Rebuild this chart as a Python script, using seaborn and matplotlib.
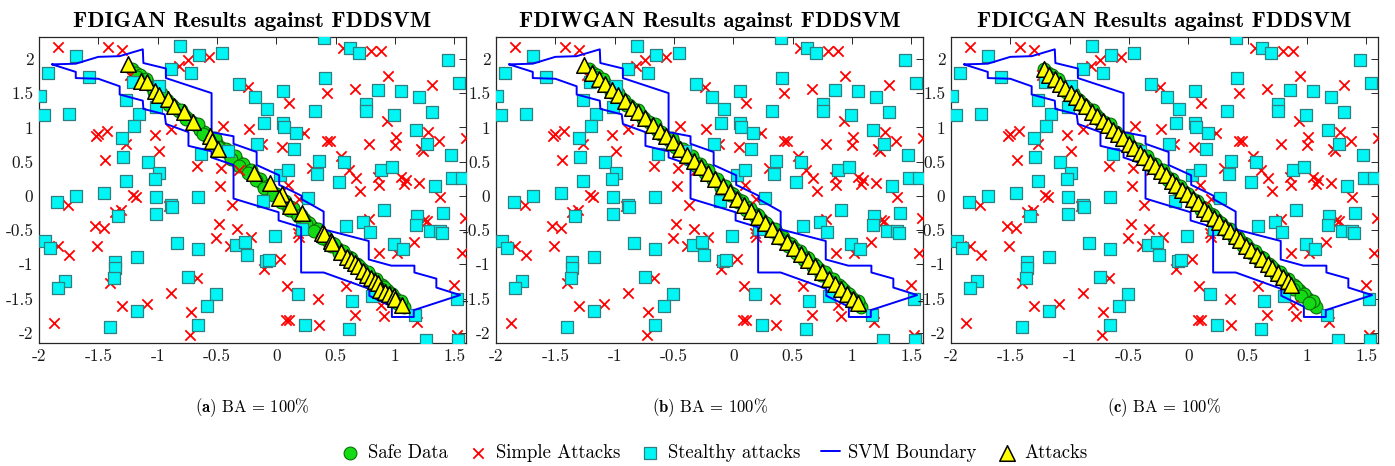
import matplotlib
matplotlib.use("Agg")
import matplotlib.pyplot as plt
import seaborn as sns
from matplotlib.ticker import FuncFormatter

# ---- data ----
simple_x = [-1.84, -1.42, -1.30, -0.82, -0.74, -0.57, 0.56, 0.80, 0.88, -0.235, 0.945, 1.31, 0.43, 0.66,
            0.11, 0.93, -1.52, -1.50, -1.43, -1.02, -1.27, -0.99, -1.445, -0.89, -0.45, -0.23, 0.23, -0.12,
            0.05, 0.43, 0.455, 0.78, 1.01, 1.00, 1.28, 1.37, 1.60, 1.22, 1.24, 0.55, -0.665, -0.465, 0.30,
            0.615, 0.67, 0.71, 0.86, 0.87, 1.05, 1.09, 1.075, 1.20, 1.385, -0.31, -0.47, 0.10, 0.19, -1.21,
            -1.18, -1.755, -1.36, -1.31, -0.905, -0.37, -1.53, -1.45, -1.515, -1.84, -1.75, -0.51, -0.48,
            -0.33, -0.39, -0.21, 0.18, 0.19, 0.785, 1.25, 1.27, 1.165, 1.59, 1.57, 0.87, 1.02, 0.03, -0.10,
            -0.665, -1.40, -1.845, -0.89, 0.09, 0.59, 1.50, -1.09, -1.30, -0.72, 0.35, 0.88, 0.91, 0.66,
            1.19, -1.87, -0.73, 0.08, 0.11, 0.36, 1.52, -1.23]
simple_y = [2.18, 2.18, 2.13, 1.89, 1.99, 2.03, 2.165, 2.12, 2.11, 1.59, 1.75, 1.62, 1.50, 1.56,
            1.35, 1.09, 0.88, 0.91, 0.95, 0.885, 0.75, 0.66, 0.52, 0.98, 1.02, 0.98, 0.92, 0.76,
            0.71, 0.80, 0.80, 0.76, 0.86, 0.74, 0.93, 0.80, 0.84, 0.69, 0.65, 0.575, 0.43, 0.41, 0.41,
            0.38, 0.255, 0.07, 0.27, 0.165, 0.27, 0.23, 0.17, 0.19, -0.01, 0.37, 0.15, 0.16, -0.04, 0.01,
            -0.01, -0.13, -0.23, -0.21, -0.15, -0.14, -0.44, -0.47, -0.73, -0.74, -0.87, -0.62, -0.41,
            -0.48, -0.73, -0.60, -0.54, -0.60, -0.345, -0.36, -0.37, -0.67, -0.33, -0.83, -0.83, -0.84, -0.93, -1.07,
            -1.20, -1.28, -1.36, -1.42, -1.32, -1.32, -1.31, -1.58, -1.61, -1.70, -1.50, -1.59, -1.75, -1.74,
            -1.85, -1.86, -2.04, -1.81, -1.82, -1.89, -2.03, 1.77]

stealthy_x = [0.40, -0.81, -1.69, -0.655, -0.455, 0.62, 0.70, 1.45, -1.92, -0.89, -0.72, -1.58, 0.41, 1.54,
              -1.99, -0.31, -0.18, 0.06, 0.86, 1.05, 1.20, -1.27, -1.96, -1.75, -1.16, -1.01, -0.08, 0.33,
              0.76, 0.76, 1.31, 0.99, -1.20, -0.10, 0.055, 0.065, 0.17, 1.18, -1.30, -0.165, 1.27, -1.29,
              -1.08, -0.635, -0.41, 0.36, 0.575, 1.47, -0.99, -1.27, -1.02, 0.03, 0.10, 0.34, 0.88, 0.98,
              0.53, 1.335, 1.48, 1.57, -1.85, -1.69, -1.45, -1.01, -0.66, -1.01, -0.89, -0.88, -1.33, -0.11,
              0.27, 0.91, 1.19, 1.18, 1.41, 0.59, 0.73, 0.79, 1.30, 1.38, 1.40, 0.22, -1.95, -1.91, -0.84,
              -0.66, -0.34, -0.26, -0.25, -0.01, 0.99, 1.07, -1.17, -1.36, -1.36, -1.37, -0.09, -0.06, -1.78,
              -1.84, -0.74, -0.51, -0.58, 0.18, 0.81, 0.64, 1.52, -1.17, -0.66, -1.40, 0.24, 0.61, 1.17,
              1.26, 1.53, -1.205, -0.99, 0.15]
stealthy_y = [2.31, 2.19, 2.04, 2.06, 2.08, 2.16, 2.09, 1.98, 1.80, 1.85, 1.80, 1.74, 1.72, 1.65,
              1.46, 1.63, 1.45, 1.53, 1.55, 1.53, 1.44, 1.40, 1.18, 1.19, 1.20, 1.30, 1.27, 1.24,
              1.34, 1.24, 1.23, 1.18, 1.02, 1.07, 1.06, 1.01, 0.92, 0.96, 0.85, 0.75, 0.76, 0.57,
              0.50, 0.61, 0.65, 0.51, 0.49, 0.59, 0.34, 0.21, 0.24, 0.31, 0.37, 0.32, 0.38, 0.42,
              0.20, 0.14, 0.26, 0.26, -0.09, 0.0, 0.04, -0.01, -0.01, -0.27, -0.13, -0.16, -0.29, -0.08,
              -0.03, -0.21, -0.29, -0.42, -0.25, -0.44, -0.38, -0.53, -0.52, -0.51, -0.55, -0.49, -0.66, -0.76, -0.69,
              -0.78, -0.72, -0.67, -0.87, -0.59, -0.70, -0.78, -0.89, -0.97, -1.05, -1.20, -0.95, -0.94, -1.25,
              -1.35, -1.18, -1.44, -1.61, -1.43, -1.47, -1.53, -1.50, -1.68, -1.88, -1.91, -1.88, -1.94, -1.74,
              -2.10, -2.11, 1.66, 1.60, 0.68]

boundary_x = [-1.89, -1.69, -1.50, -1.32, -1.125, -1.12, -0.93, -0.93, -0.545, -0.545, -0.36, -0.36,
              -0.165, -0.165, 0.025, 0.025, 0.215, 0.215, 0.40, 0.40, 0.78, 0.78, 0.97, 1.165, 1.165,
              1.35, 1.35, 1.55, 1.16, 1.16, 0.975, 0.975, 0.785, 0.785, 0.40, 0.21, 0.21, 0.02, 0.02,
              -0.36, -0.36, -0.545, -0.545, -0.74, -0.74, -0.93, -0.94, -1.12, -1.125, -1.32, -1.32,
              -1.50, -1.69, -1.69, -1.89]
boundary_y = [1.92, 1.93, 2.03, 2.04, 2.14, 1.94, 1.86, 1.72, 1.50, 0.93, 0.87, 0.76,
              0.64, 0.45, 0.30, 0.16, 0.0, -0.05, -0.23, -0.49, -0.66, -0.93, -1.02, -1.02, -1.12,
              -1.21, -1.34, -1.45, -1.67, -1.77, -1.77, -1.62, -1.46, -1.36, -1.12, -1.12, -0.46, -0.36, -0.24,
              -0.04, 0.45, 0.56, 0.65, 0.73, 0.93, 1.05, 1.19, 1.27, 1.39, 1.48, 1.60,
              1.71, 1.72, 1.81, 1.92]

safe_x = [-1.22, -1.18, -1.15, -1.12, -1.09, -1.05, -1.02, -0.99, -0.95, -0.92, -0.88, -0.85, -0.82,
          -0.78, -0.75, -0.71, -0.68, -0.64, -0.61, -0.58, -0.54, -0.51, -0.47, -0.44, -0.40, -0.37,
          -0.33, -0.30, -0.26, -0.23, -0.19, -0.16, -0.12, -0.09, -0.05, -0.02, 0.02, 0.05, 0.09, 0.12,
          0.16, 0.19, 0.23, 0.26, 0.30, 0.33, 0.37, 0.40, 0.44, 0.47, 0.51, 0.54, 0.58, 0.61, 0.65, 0.68,
          0.72, 0.75, 0.79, 0.82, 0.86, 0.89, 0.93, 0.96, 1.00, 1.03, 1.06, 1.08,
          -1.10, -0.97, -0.80, -0.66, -0.52, -0.42, -0.35, -0.28, -0.21, -0.14, -0.07, 0.00, 0.07, 0.14,
          0.21, 0.28, 0.35, 0.42, 0.49, 0.56, 0.63, 0.70, 0.77, 0.84, 0.91, 0.98, 1.05,
          -1.17, -1.03, -0.90, -0.76, -0.62, -0.49, -0.38, -0.31, -0.24, -0.17, -0.10, -0.03, 0.04, 0.11,
          0.18, 0.25, 0.32, 0.39, 0.46, 0.53, 0.60, 0.67, 0.74, 0.81, 0.88, 0.95, 1.02]
safe_y = [1.85, 1.79, 1.76, 1.69, 1.66, 1.59, 1.55, 1.50, 1.43, 1.40, 1.33, 1.29, 1.24,
          1.18, 1.13, 1.08, 1.03, 0.96, 0.93, 0.87, 0.82, 0.78, 0.71, 0.67, 0.61, 0.56,
          0.51, 0.45, 0.40, 0.36, 0.29, 0.25, 0.19, 0.14, 0.08, 0.04, -0.03, -0.06, -0.13, -0.17,
          -0.24, -0.27, -0.34, -0.38, -0.45, -0.49, -0.55, -0.59, -0.66, -0.69, -0.76, -0.80, -0.86, -0.90, -0.97, -1.00,
          -1.07, -1.11, -1.17, -1.21, -1.28, -1.31, -1.38, -1.42, -1.49, -1.53, -1.58, -1.62,
          1.70, 1.50, 1.25, 1.05, 0.84, 0.69, 0.58, 0.47, 0.37, 0.25, 0.15, 0.03, -0.07, -0.18,
          -0.28, -0.39, -0.49, -0.60, -0.70, -0.81, -0.91, -1.02, -1.12, -1.22, -1.33, -1.43, -1.54,
          1.73, 1.52, 1.33, 1.12, 0.90, 0.71, 0.54, 0.44, 0.33, 0.23, 0.12, 0.01, -0.09, -0.20,
          -0.30, -0.41, -0.51, -0.62, -0.73, -0.83, -0.94, -1.04, -1.15, -1.25, -1.36, -1.47, -1.57]

attacks_gan_x = [-1.25, -1.14, -1.09, -1.02, -0.99, -0.91, -0.86, -0.78, -0.705, -0.56, -0.545, -0.49,
                 -0.185, -0.05, 0.045, 0.025, 0.12, 0.22, 0.385, 0.40, 0.46, 0.47, 0.55, 0.595, 0.63, 0.665,
                 0.69, 0.735, 0.765, 0.80, 0.83, 0.86, 0.875, 0.92, 0.95, 0.99, 1.00, 1.06]
attacks_gan_y = [1.92, 1.68, 1.66, 1.53, 1.48, 1.41, 1.31, 1.23, 1.08, 0.87, 0.80, 0.68,
                 0.34, 0.19, 0.02, -0.03, -0.15, -0.25, -0.54, -0.56, -0.66, -0.69, -0.82, -0.89, -0.94, -0.98,
                 -1.03, -1.10, -1.15, -1.20, -1.24, -1.27, -1.37, -1.41, -1.43, -1.46, -1.51, -1.60]

attacks_wgan_x = [-1.26, -1.19, -1.13, -1.08, -1.02, -0.97, -0.91, -0.85, -0.80, -0.74, -0.68, -0.62,
                  -0.57, -0.51, -0.45, -0.39, -0.33, -0.27, -0.21, -0.15, -0.09, -0.03, 0.03, 0.09, 0.15,
                  0.21, 0.27, 0.33, 0.39, 0.45, 0.51, 0.57, 0.63, 0.69, 0.75, 0.81, 0.86, 0.91, 0.96, 1.01, 1.05]
attacks_wgan_y = [1.91, 1.80, 1.71, 1.64, 1.55, 1.47, 1.38, 1.29, 1.22, 1.13, 1.04, 0.94,
                  0.87, 0.78, 0.69, 0.60, 0.51, 0.42, 0.33, 0.24, 0.15, 0.05, -0.04, -0.13, -0.22,
                  -0.31, -0.40, -0.49, -0.58, -0.67, -0.76, -0.85, -0.94, -1.03, -1.12, -1.21, -1.29, -1.36, -1.44, -1.51, -1.57]

attacks_cgan_x = [-1.22, -1.17, -1.12, -1.08, -1.04, -0.99, -0.95, -0.90, -0.86, -0.81, -0.77, -0.72,
                  -0.68, -0.63, -0.59, -0.55, -0.50, -0.46, -0.41, -0.37, -0.32, -0.28, -0.23, -0.19,
                  -0.14, -0.10, -0.05, -0.01, 0.04, 0.08, 0.13, 0.17, 0.22, 0.26, 0.31, 0.35, 0.40, 0.44,
                  0.49, 0.53, 0.58, 0.62, 0.67, 0.71, 0.76, 0.80, 0.84, 0.87]
attacks_cgan_y = [1.85, 1.77, 1.70, 1.64, 1.58, 1.50, 1.44, 1.37, 1.31, 1.23, 1.17, 1.10,
                  1.04, 0.96, 0.90, 0.84, 0.76, 0.70, 0.63, 0.57, 0.49, 0.43, 0.36, 0.30,
                  0.22, 0.16, 0.09, 0.03, -0.05, -0.11, -0.19, -0.25, -0.32, -0.38, -0.46, -0.52, -0.59, -0.65,
                  -0.73, -0.79, -0.86, -0.92, -1.00, -1.06, -1.13, -1.19, -1.25, -1.30]

titles = ["FDIGAN Results against FDDSVM", "FDIWGAN Results against FDDSVM", "FDICGAN Results against FDDSVM"]
captions = [r"$\mathbf{(a)}$ BA = 100%", r"$\mathbf{(b)}$ BA = 100%", r"$\mathbf{(c)}$ BA = 100%"]
attacks = [(attacks_gan_x, attacks_gan_y), (attacks_wgan_x, attacks_wgan_y), (attacks_cgan_x, attacks_cgan_y)]
xticks = [-2, -1.5, -1, -0.5, 0, 0.5, 1, 1.5]
yticks = [-2, -1.5, -1, -0.5, 0, 0.5, 1, 1.5, 2]

sns.set_style("white")
plt.rcParams['font.family'] = ['cmr10', 'DejaVu Serif']
plt.rcParams['mathtext.fontset'] = 'cm'
plt.rcParams['axes.unicode_minus'] = False
plt.rcParams['axes.formatter.use_mathtext'] = False
plt.rcParams['text.color'] = 'black'

fig = plt.figure(figsize=(13.95, 4.66), dpi=100)
lefts = [39, 496, 951]
W, H = 1395, 466
axes = []
for i, left in enumerate(lefts):
    ax = fig.add_axes([left / W, 1 - 343 / H, 427 / W, 306 / H])
    sns.scatterplot(x=safe_x, y=safe_y, ax=ax, marker='o', s=85, color='#14dc14',
                    edgecolor='#0a6e0a', linewidth=0.8, label='Safe Data', legend=False, zorder=2)
    sns.scatterplot(x=simple_x, y=simple_y, ax=ax, marker='x', s=55, color='red',
                    linewidth=1.3, label='Simple Attacks', legend=False, zorder=3)
    sns.scatterplot(x=stealthy_x, y=stealthy_y, ax=ax, marker='s', s=64, color='#00f5f5',
                    edgecolor='#2f7f80', linewidth=0.9, label='Stealthy attacks', legend=False, zorder=3)
    sns.lineplot(x=boundary_x, y=boundary_y, ax=ax, sort=False, estimator=None, color='#0000ff',
                 linewidth=1.4, label='SVM Boundary', legend=False, zorder=4)
    ax_x, ax_y = attacks[i]
    sns.scatterplot(x=ax_x, y=ax_y, ax=ax, marker='^', s=125, color='#ffff00',
                    edgecolor='black', linewidth=1.1, label='Attacks', legend=False, zorder=5)

    ax.set_xlim(-2, 1.6)
    ax.set_ylim(-2.15, 2.32)
    ax.set_xticks(xticks)
    ax.set_yticks(yticks)
    fmt = FuncFormatter(lambda v, p: f"{v:g}")
    ax.xaxis.set_major_formatter(fmt)
    ax.yaxis.set_major_formatter(fmt)
    ax.tick_params(direction='in', top=True, right=True, length=5, width=0.7,
                   labelsize=12.5, pad=4, colors='#262626', labelcolor='#1a1a1a')
    for sp in ax.spines.values():
        sp.set_color('#262626')
        sp.set_linewidth(0.9)
    ax.set_xlabel('')
    ax.set_ylabel('')
    ax.set_title(titles[i], fontfamily='cmb10', fontsize=16.3, pad=7, color='black')
    fig.text((left + 213.5) / W, 1 - 408 / H, captions[i], ha='center', va='center', fontsize=12)
    axes.append(ax)

handles, labels = axes[0].get_legend_handles_labels()
fig.legend(handles, labels, loc='center', bbox_to_anchor=(0.512, 1 - 453 / H), ncol=5,
           frameon=False, fontsize=13.5, handlelength=1.0, handletextpad=0.45, columnspacing=1.1)

fig.savefig("out.png", dpi=100)
